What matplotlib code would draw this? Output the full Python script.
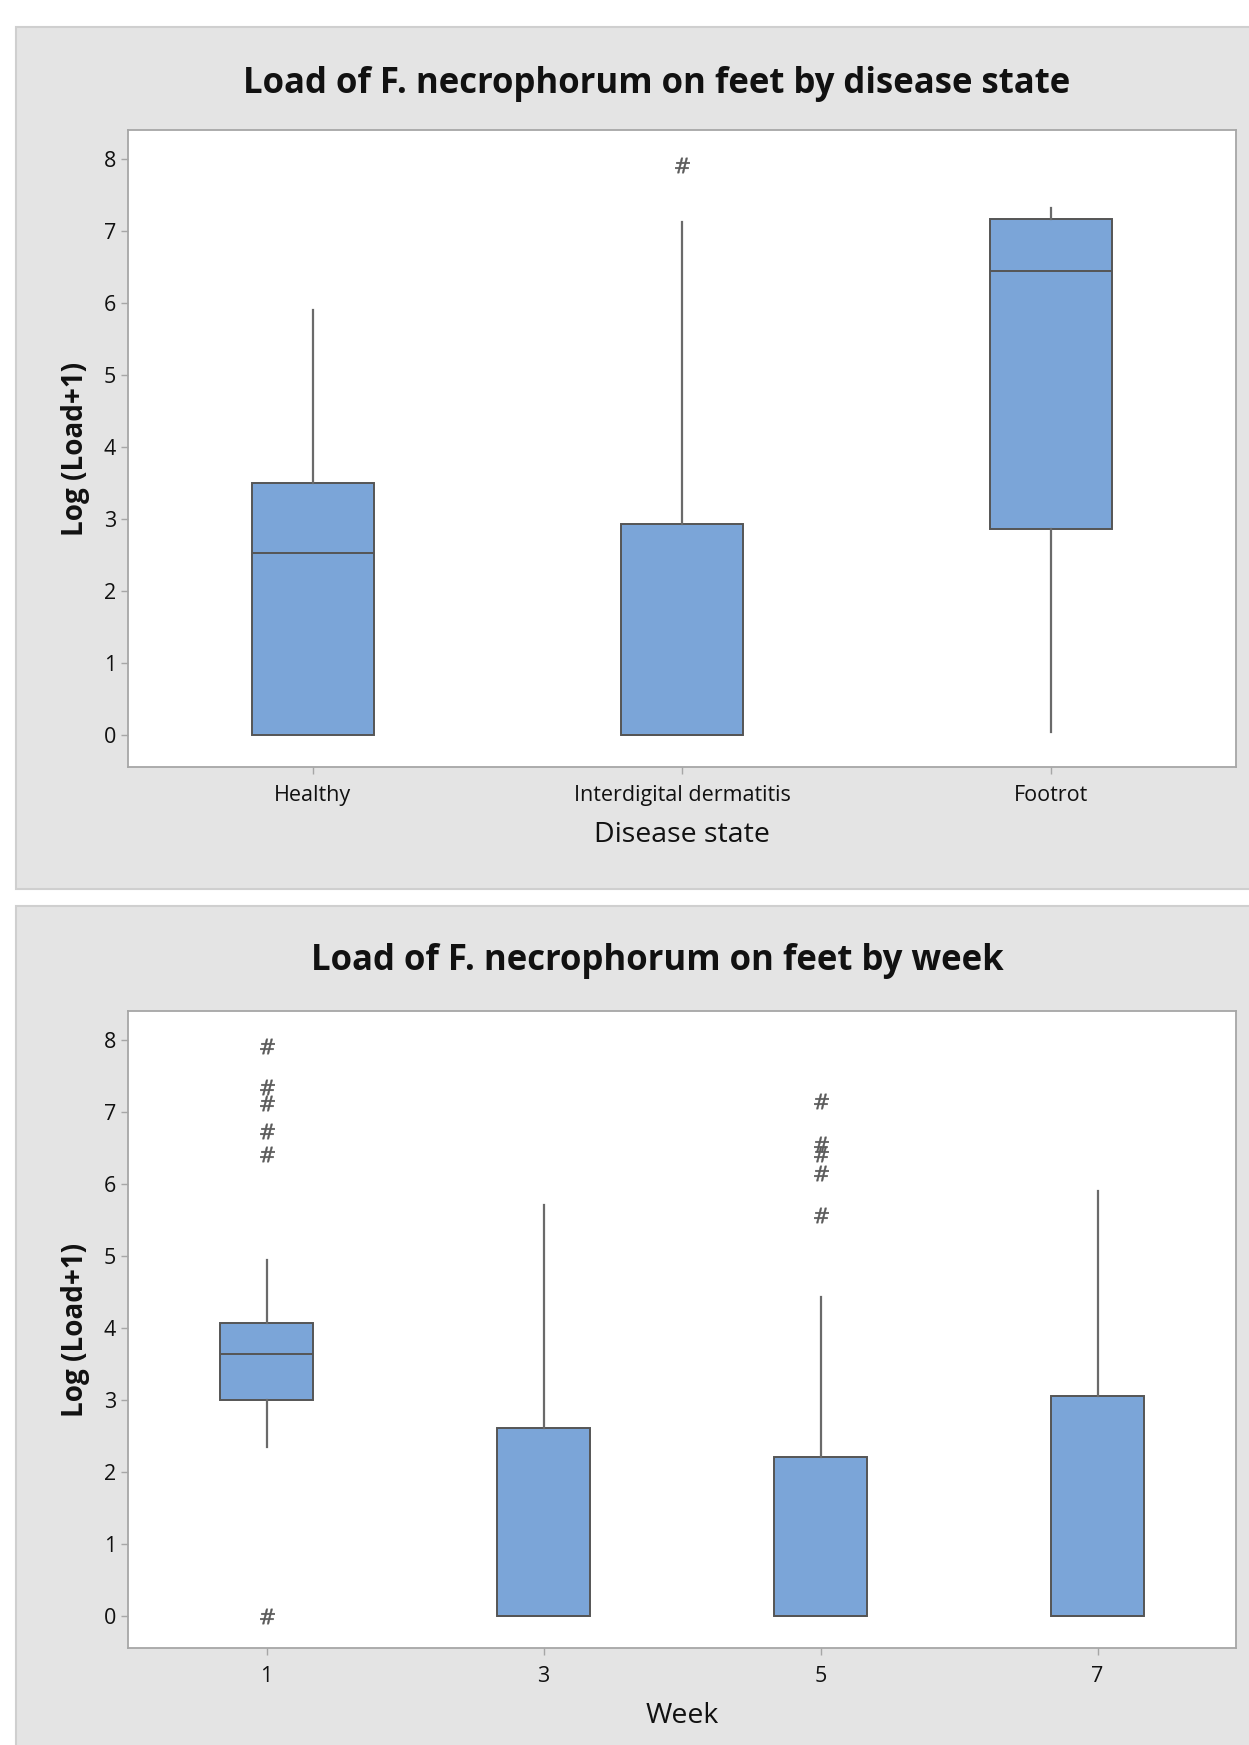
import matplotlib
matplotlib.use("Agg")
import matplotlib.pyplot as plt
from matplotlib.patches import Rectangle

plt.rcParams['font.family'] = ['Open Sans', 'DejaVu Sans']

# Panel 1: load by disease state (box stats)
STATES = ["Healthy", "Interdigital dermatitis", "Footrot"]
STATE_Q1 = [0.0, 0.0, 2.85]
STATE_MED = [2.52, 0.0, 6.44]
STATE_Q3 = [3.49, 2.93, 7.17]
STATE_WLO = [0.0, 0.0, 0.03]
STATE_WHI = [5.90, 7.12, 7.31]
STATE_FLIERS = [[], [7.91], []]

# Panel 2: load by week
WEEKS = [1, 3, 5, 7]
WEEK_Q1 = [3.00, 0.0, 0.0, 0.0]
WEEK_MED = [3.64, 0.0, 0.0, 0.0]
WEEK_Q3 = [4.07, 2.60, 2.20, 3.05]
WEEK_WLO = [2.34, 0.0, 0.0, 0.0]
WEEK_WHI = [4.94, 5.71, 4.43, 5.90]
WEEK_FLIERS = [[7.91, 7.34, 7.12, 6.73, 6.41, 0.0], [], [7.15, 6.55, 6.42, 6.15, 5.56], []]

BOX_COLOR = "#7ba5d8"
EDGE_COLOR = "#555555"
PANEL_COLOR = "#e4e4e4"
FRAME_COLOR = "#a6a6a6"
TEXT_COLOR = "#111111"

W, H = 1249, 1745
TITLE_X = 657 / W


def make_stats(labels, q1, med, q3, wlo, whi, fliers):
    stats = []
    for i in range(len(labels)):
        stats.append(dict(label=str(labels[i]), q1=q1[i], med=med[i], q3=q3[i],
                          whislo=wlo[i], whishi=whi[i], fliers=fliers[i]))
    return stats


def px_axes(fig, left, top, right, bottom):
    ax = fig.add_axes([left / W, (H - bottom) / H, (right - left) / W, (bottom - top) / H])
    ax.set_zorder(5)
    return ax


def draw_box(ax, stats, positions, width):
    ax.bxp(stats, positions=positions, widths=width, patch_artist=True,
           showcaps=False,
           boxprops=dict(facecolor=BOX_COLOR, edgecolor=EDGE_COLOR, linewidth=1.4),
           medianprops=dict(color=EDGE_COLOR, linewidth=1.4),
           whiskerprops=dict(color="#6a6a6a", linewidth=1.6),
           flierprops=dict(marker=r'$\#$', markersize=11, markeredgewidth=0.3,
                           markerfacecolor="#5a5a5a", markeredgecolor="#5a5a5a"))
    ax.set_facecolor("white")
    for sp in ax.spines.values():
        sp.set_color(FRAME_COLOR)
        sp.set_linewidth(1.3)
    ax.tick_params(axis='both', colors=FRAME_COLOR, labelcolor=TEXT_COLOR,
                   labelsize=15.5, length=5, width=1)
    ax.tick_params(axis='x', pad=8)
    ax.set_yticks(range(0, 9))
    ax.set_ylim(-0.45, 8.4)
    ax.set_ylabel("Log (Load+1)", fontsize=20, fontweight='bold', color=TEXT_COLOR, labelpad=10)


fig = plt.figure(figsize=(W / 100, H / 100), dpi=100)
fig.patch.set_facecolor("white")

# gray panel backgrounds
fig.patches.append(Rectangle((16 / W, (H - 889) / H), (W - 16) / W + 0.01, 862 / H,
                             transform=fig.transFigure, facecolor=PANEL_COLOR,
                             edgecolor="#cfcfcf", linewidth=1.5, zorder=-10))
fig.patches.append(Rectangle((16 / W, -0.01), (W - 16) / W + 0.01, (H - 906) / H + 0.01,
                             transform=fig.transFigure, facecolor=PANEL_COLOR,
                             edgecolor="#cfcfcf", linewidth=1.5, zorder=-10))

# top panel
ax1 = px_axes(fig, 128, 130, 1236, 767)
draw_box(ax1, make_stats(STATES, STATE_Q1, STATE_MED, STATE_Q3, STATE_WLO, STATE_WHI, STATE_FLIERS),
         list(range(len(STATES))), 0.33)
ax1.set_xlim(-0.5, 2.5)
ax1.set_xticks(range(len(STATES)))
ax1.set_xticklabels(STATES)
ax1.set_xlabel("Disease state", fontsize=20.5, color=TEXT_COLOR, labelpad=11)
fig.text(TITLE_X, 1 - 84 / H, "Load of F. necrophorum on feet by disease state",
         ha='center', va='center', fontsize=25, fontweight='bold', color=TEXT_COLOR)

# bottom panel
ax2 = px_axes(fig, 128, 1011, 1236, 1648)
draw_box(ax2, make_stats(WEEKS, WEEK_Q1, WEEK_MED, WEEK_Q3, WEEK_WLO, WEEK_WHI, WEEK_FLIERS),
         WEEKS, 0.67)
ax2.set_xlim(0, 8)
ax2.set_xticks(WEEKS)
ax2.set_xticklabels([str(w) for w in WEEKS])
ax2.set_xlabel("Week", fontsize=20.5, color=TEXT_COLOR, labelpad=11)
fig.text(TITLE_X, 1 - 961 / H, "Load of F. necrophorum on feet by week",
         ha='center', va='center', fontsize=25, fontweight='bold', color=TEXT_COLOR)

fig.savefig("out.png", dpi=100, facecolor=fig.get_facecolor())
